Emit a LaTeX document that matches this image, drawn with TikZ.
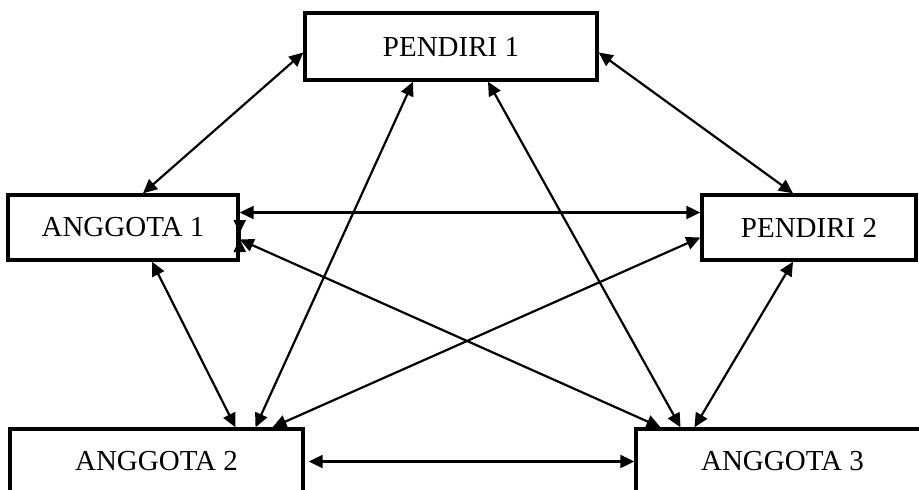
\documentclass[tikz,border=0pt]{standalone}
\usepackage{fontspec}
\setmainfont{Liberation Serif}
\usetikzlibrary{arrows.meta}

\tikzset{
  member/.style={draw=black, line width=3.4pt, fill=white, inner sep=0pt,
    font=\fontsize{29}{35}\selectfont},
  tip/.style={Triangle[length=14pt,width=13pt]},
  link/.style={line width=2.2pt, {Triangle[length=14pt,width=13pt]}-{Triangle[length=14pt,width=13pt]}},
  pinch/.style={line width=2.2pt, {Triangle[reversed,length=13pt,width=12pt]}-{Triangle[reversed,length=13pt,width=12pt]}}
}

\begin{document}
\begin{tikzpicture}[x=1pt, y=-1pt]
  \useasboundingbox (0,0) rectangle (919,490);
  \clip (0,0) rectangle (919,490);

  % members of the group
  \node[member, minimum width=292pt, minimum height=67pt] (p1) at (451,46.5) {PENDIRI 1};
  \node[member, minimum width=230pt, minimum height=65pt] (a1) at (123,227.5) {ANGGOTA 1};
  \node[member, minimum width=214pt, minimum height=65pt] (p2) at (809,227.5) {PENDIRI 2};
  \node[member, minimum width=293pt, minimum height=65pt] (a2) at (156.5,461.5) {ANGGOTA 2};
  \node[member, minimum width=293pt, minimum height=65pt] (a3) at (782.5,461.5) {ANGGOTA 3};

  % two-way links between every pair
  \draw[link] ([yshift=-6pt]p1.west) -- ([xshift=20pt]a1.north);
  \draw[link] ([yshift=-6pt]p1.east) -- ([xshift=-16pt]p2.north);
  \draw[link] ([yshift=15pt]a1.east) -- ([yshift=15pt]p2.west);
  \draw[link] ([yshift=-12pt]a1.east) -- ([xshift=-122pt]a3.north);
  \draw[link] ([yshift=-10pt]p2.west) -- ([xshift=116pt]a2.north);
  \draw[link] ([xshift=-38pt]p1.south) -- ([xshift=99pt]a2.north);
  \draw[link] ([xshift=37pt]p1.south) -- ([xshift=-102pt]a3.north);
  \draw[link] ([xshift=29pt]a1.south) -- ([xshift=79pt]a2.north);
  \draw[link] ([xshift=-16pt]p2.south) -- ([xshift=-88pt]a3.north);
  \draw[link] ([xshift=4pt]a2.east) -- (a3.west);

  % short pinched arrow on the right side of ANGGOTA 1
  \draw[pinch] ([yshift=7.5pt]a1.east) -- ([yshift=-24.5pt]a1.east);
\end{tikzpicture}
\end{document}
